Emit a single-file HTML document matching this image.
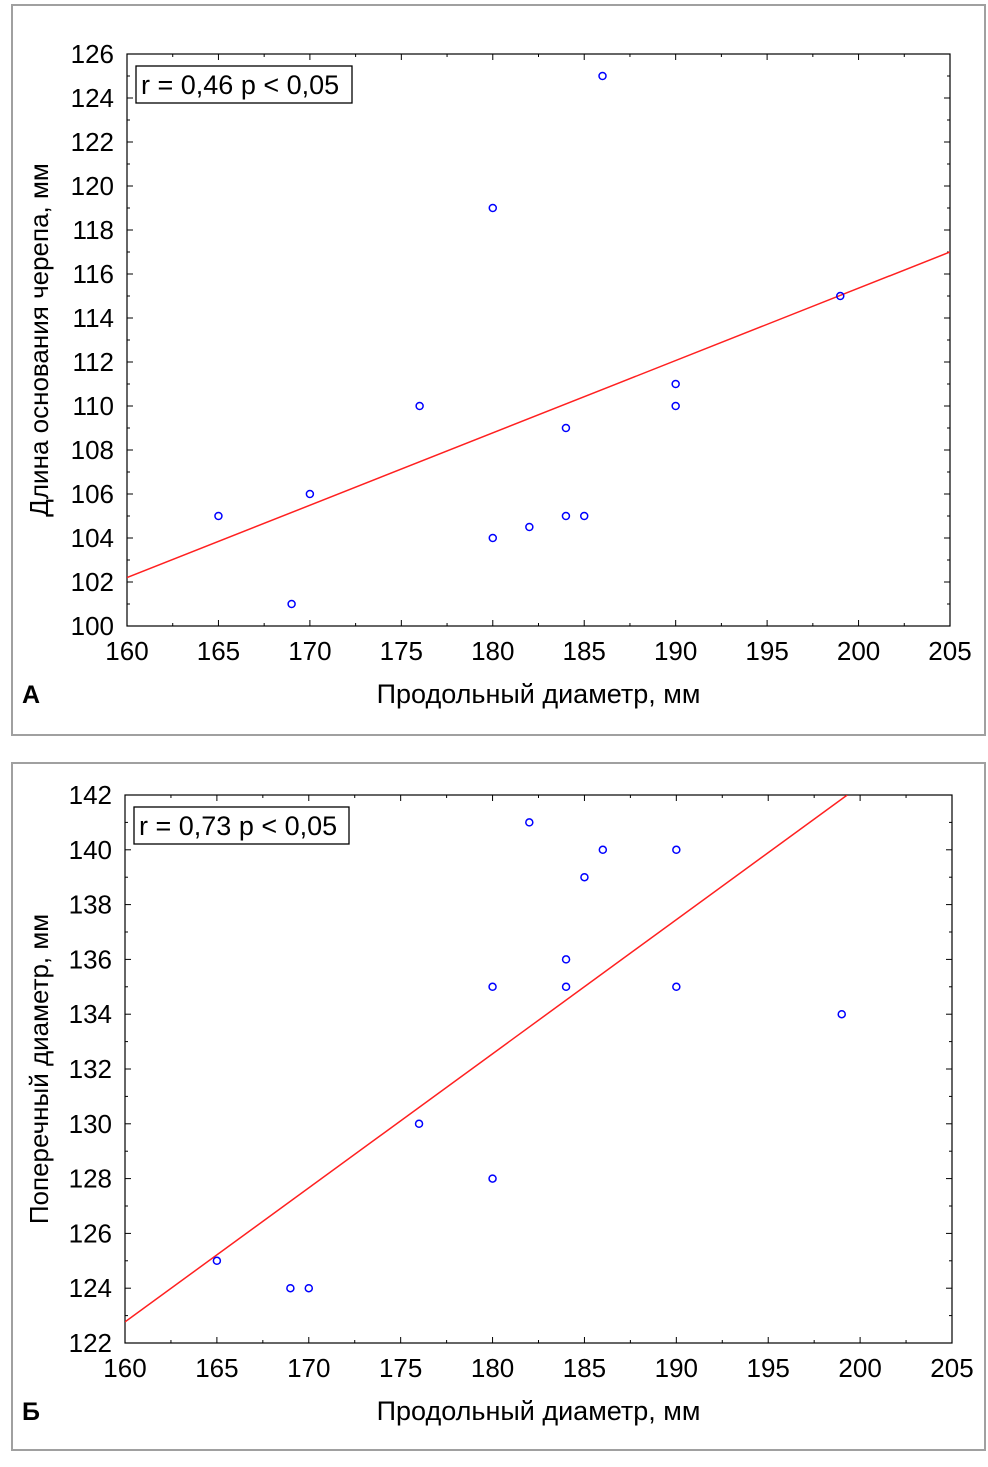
<!DOCTYPE html>
<html><head><meta charset="utf-8"><style>
body{margin:0;background:#fff;}
svg text{font-family:"Liberation Sans",sans-serif;fill:#000;}
</style></head><body>
<svg id="s" width="988" height="1462" xmlns="http://www.w3.org/2000/svg"></svg>
<script>
const xTicks=[160,165,170,175,180,185,190,195,200,205];
const aYTicks=[100,102,104,106,108,110,112,114,116,118,120,122,124,126];
const aX=[165,169,170,176,180,180,182,184,184,185,186,190,190,199];
const aY=[105,101,106,110,119,104,104.5,109,105,105,125,111,110,115];
const aLine=[102.2,117.0];
const bYTicks=[122,124,126,128,130,132,134,136,138,140,142];
const bX=[165,169,170,176,180,180,182,184,184,185,186,190,190,199];
const bY=[125,124,124,130,135,128,141,136,135,139,140,140,135,134];
const bLine=[122.77,142];
const bLineX=[160,199.3];
const NS="http://www.w3.org/2000/svg";
const svg=document.getElementById('s');
function el(t,a,p){const e=document.createElementNS(NS,t);for(const k in a)e.setAttribute(k,a[k]);(p||svg).appendChild(e);return e;}
function panel(cfg){
 const g=el('g',{});
 
 
 const fr=el('rect',{x:cfg.frame[0],y:cfg.frame[1],width:cfg.frame[2],height:cfg.frame[3],fill:'none',stroke:'#a0a0a0','stroke-width':2},g);
 
 const [L,T,R,B]=cfg.plot;
 const y0=cfg.yt[0],y1=cfg.yt[cfg.yt.length-1];
 const sx=v=>L+(v-160)/45*(R-L);
 const sy=v=>B-(v-y0)/(y1-y0)*(B-T);
 const cp='clip'+cfg.name;
 const cd=el('clipPath',{id:cp},g);el('rect',{x:L,y:T,width:R-L,height:B-T},cd);
 const pb=el('rect',{x:L,y:T,width:R-L,height:B-T,fill:'none',stroke:'#000','stroke-width':1.2},g);
 
 xTicks.forEach((v,i)=>{
  el('line',{x1:sx(v),x2:sx(v),y1:B,y2:B-6,stroke:'#000'},g);
  el('line',{x1:sx(v),x2:sx(v),y1:T,y2:T+6,stroke:'#000'},g);
  if(i<xTicks.length-1){const m=v+2.5;el('line',{x1:sx(m),x2:sx(m),y1:B,y2:B-3,stroke:'#000'},g);el('line',{x1:sx(m),x2:sx(m),y1:T,y2:T+3,stroke:'#000'},g);}
  const t=el('text',{x:sx(v),y:B+34,'text-anchor':'middle','font-size':26},g);t.textContent=v;
  
 });
 cfg.yt.forEach((v,i)=>{
  el('line',{x1:L,x2:L+6,y1:sy(v),y2:sy(v),stroke:'#000'},g);
  el('line',{x1:R,x2:R-6,y1:sy(v),y2:sy(v),stroke:'#000'},g);
  if(i<cfg.yt.length-1){const m=v+1;el('line',{x1:L,x2:L+3,y1:sy(m),y2:sy(m),stroke:'#000'},g);el('line',{x1:R,x2:R-3,y1:sy(m),y2:sy(m),stroke:'#000'},g);}
  const t=el('text',{x:L-13,y:sy(v)+9,'text-anchor':'end','font-size':26},g);t.textContent=v;
  
 });
 const ln=el('line',{x1:sx(cfg.lx[0]),y1:sy(cfg.ly[0]),x2:sx(cfg.lx[1]),y2:sy(cfg.ly[1]),stroke:'#ff2020','stroke-width':1.5,'clip-path':'url(#'+cp+')'},g);
 
 cfg.xs.forEach((v,i)=>{
  const c=el('circle',{cx:sx(v),cy:sy(cfg.ys[i]),r:3.5,fill:'none',stroke:'#0000ff','stroke-width':1.5},g);
  
 });
 const sb=el('rect',{x:L+9,y:T+12,width:cfg.sw,height:37,fill:'#fff',stroke:'#000','stroke-width':1.3},g);
 
 const st=el('text',{x:L+14,y:T+40,'font-size':27},g);st.textContent=cfg.stat;
 
 const xt=el('text',{x:(L+R)/2,y:B+77,'text-anchor':'middle','font-size':27},g);xt.textContent='Продольный диаметр, мм';
 
 const yt=el('text',{x:0,y:0,'text-anchor':'middle','font-size':26,transform:'translate(48,'+((T+B)/2)+') rotate(-90)'},g);yt.textContent=cfg.ytitle;
 
 const lb=el('text',{x:22,y:B+77,'font-size':25,'font-weight':'bold'},g);lb.textContent=cfg.label;
 
}
panel({name:'panel-a',frame:[12,5,973,730],plot:[127,54,950,626],yt:aYTicks,xs:aX,ys:aY,lx:[160,205],ly:aLine,sw:216,stat:'r = 0,46 p < 0,05',ytitle:'Длина основания черепа, мм',label:'А'});
panel({name:'panel-b',frame:[12,763,973,687],plot:[125,795,952,1343],yt:bYTicks,xs:bX,ys:bY,lx:bLineX,ly:bLine,sw:215,stat:'r = 0,73 p < 0,05',ytitle:'Поперечный диаметр, мм',label:'Б'});
</script>
</body></html>
